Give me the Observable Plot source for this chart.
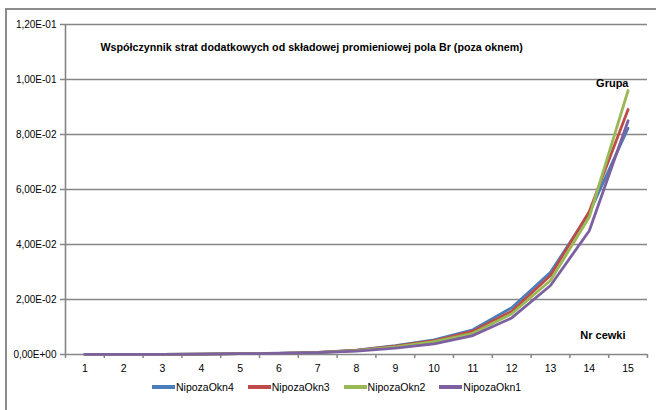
<!DOCTYPE html>
<html>
<head>
<meta charset="utf-8">
<script src="https://cdn.jsdelivr.net/npm/d3@7"></script>
<script src="https://cdn.jsdelivr.net/npm/@observablehq/plot@0.6"></script>
<style>
  html, body { margin: 0; padding: 0; background: #fff; }
  #wrap { position: relative; width: 656px; height: 410px; overflow: hidden; font-family: "Liberation Sans Narrow", "Liberation Sans", sans-serif; }
  #border { position: absolute; left: 5px; top: 8px; width: 700px; height: 500px; border-left: 2px solid #8c8c8c; border-top: 2px solid #8c8c8c; }
  #chart { position: absolute; left: 0; top: 0; }
  #legend { position: absolute; left: 152px; top: 381px; display: flex; align-items: center; font-size: 10.5px; color: #000; }
  .item { display: flex; align-items: center; margin-right: 14px; }
  .sw { width: 23px; height: 4px; margin-right: 1px; }
</style>
</head>
<body>
<div id="wrap">
  <div id="border"></div>
  <div id="chart"></div>
  <div id="legend"></div>
</div>
<script>
const nr = [1,2,3,4,5,6,7,8,9,10,11,12,13,14,15];
const seriesNames = ["NipozaOkn4","NipozaOkn3","NipozaOkn2","NipozaOkn1"];
const seriesColors = ["#4a7ebb","#be4b48","#98b954","#7d60a0"];
const okn4 = [0.00002,0.00004,0.00008,0.00015,0.0003,0.00045,0.0008,0.0016,0.0032,0.0053,0.0090,0.0170,0.0299,0.0515,0.0823];
const okn3 = [0.00002,0.00004,0.00008,0.00015,0.0003,0.00044,0.0008,0.0015,0.0030,0.0050,0.0085,0.0157,0.0287,0.0520,0.0891];
const okn2 = [0.00002,0.00004,0.00008,0.00014,0.0003,0.00042,0.0007,0.0014,0.0028,0.0047,0.0077,0.0148,0.0269,0.0500,0.0960];
const okn1 = [0.00002,0.00004,0.00007,0.00013,0.0003,0.00040,0.0007,0.0012,0.0023,0.0039,0.0069,0.0133,0.0251,0.0450,0.0850];
const yTicks = [0,0.02,0.04,0.06,0.08,0.10,0.12];
const xBoundaries = [0.5,1.5,2.5,3.5,4.5,5.5,6.5,7.5,8.5,9.5,10.5,11.5,12.5,13.5,14.5,15.5];
const titleText = "Współczynnik strat dodatkowych od składowej promieniowej pola Br (poza oknem)";
const yLabel = "Grupa";
const xLabel = "Nr cewki";

const allSeries = [okn4, okn3, okn2, okn1];
const data = [];
allSeries.forEach((arr, i) => arr.forEach((v, j) => data.push({nr: nr[j], value: v, series: seriesNames[i]})));

function sci(v) {
  if (v === 0) return "0,00E+00";
  const [m, e] = d3.format(".2e")(v).split("e");
  const en = +e;
  const sign = en < 0 ? "-" : "+";
  return m.replace(".", ",") + "E" + sign + String(Math.abs(en)).padStart(2, "0");
}

const grid = "#868686";
const plot = Plot.plot({
  width: 656,
  height: 378,
  marginLeft: 65,
  marginRight: 9,
  marginTop: 24,
  marginBottom: 24,
  style: {fontFamily: '"Liberation Sans Narrow", "Liberation Sans", sans-serif', fontSize: "10px", color: "#000", background: "transparent"},
  x: {domain: [0.5, 15.5]},
  y: {domain: [0, 0.12]},
  color: {domain: seriesNames, range: seriesColors},
  marks: [
    Plot.gridY(yTicks, {stroke: grid, strokeOpacity: 1, strokeWidth: 1.6}),
    Plot.ruleX([0.5], {stroke: grid, strokeWidth: 1.6}),
    Plot.axisY(yTicks, {tickFormat: sci, tickSize: 5, tickPadding: 4, stroke: grid, strokeWidth: 1.5, label: null, fontSize: 10}),
    Plot.axisX(xBoundaries, {tickFormat: () => "", tickSize: 4, stroke: grid, strokeWidth: 1.5, label: null}),
    Plot.axisX(nr, {tickSize: 0, tickPadding: 10, tickFormat: d => String(d), label: null, fontSize: 10.5}),
    Plot.line(data, {x: "nr", y: "value", stroke: "series", z: "series", strokeWidth: 2.8, strokeLinejoin: "round"}),
    Plot.text([titleText], {text: d => d, frameAnchor: "top-left", dx: 35, dy: 23, textAnchor: "start", lineAnchor: "middle", fontWeight: "bold", fontSize: 10.7}),
    Plot.text([yLabel], {text: d => d, frameAnchor: "top-right", dx: -19, dy: 59, textAnchor: "end", lineAnchor: "middle", fontWeight: "bold", fontSize: 11}),
    Plot.text([xLabel], {text: d => d, frameAnchor: "bottom-right", dx: -22, dy: -19, textAnchor: "end", lineAnchor: "middle", fontWeight: "bold", fontSize: 11})
  ]
});
document.getElementById("chart").appendChild(plot);

const legend = document.getElementById("legend");
seriesNames.forEach((n, i) => {
  const it = document.createElement("div");
  it.className = "item";
  const sw = document.createElement("div");
  sw.className = "sw";
  sw.style.background = seriesColors[i];
  const t = document.createElement("span");
  t.textContent = n;
  it.appendChild(sw); it.appendChild(t);
  legend.appendChild(it);
});
</script>
</body>
</html>
